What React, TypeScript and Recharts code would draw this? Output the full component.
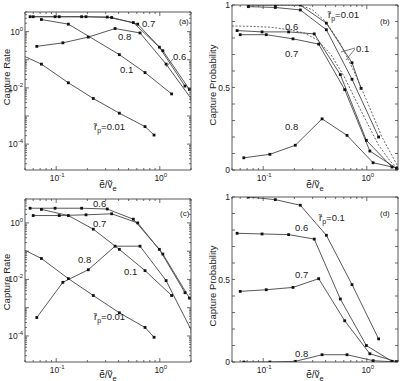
import React from 'react'
import { LineChart, Line, XAxis, YAxis, ReferenceArea } from 'recharts'

const FONT = '"Liberation Sans", Arial, Helvetica, sans-serif'
const INK = '#454545'
const TXT = '#222'

// e/v sample points used by each r_p run
const xRun06 = [0.056, 0.0975, 0.176, 0.311, 0.555, 0.99, 1.75]
const xRun07 = [0.06, 0.107, 0.194, 0.343, 0.612, 1.07, 1.93]
const xRun08 = [0.065, 0.116, 0.204, 0.37, 0.644, 1.15, 2.05]
const xRun08p = [0.065, 0.116, 0.204, 0.37, 0.644, 1.15, 1.95]
const xRun01 = [0.072, 0.131, 0.228, 0.407, 0.72, 1.3]
const xRun001 = [0.045, 0.072, 0.131, 0.228, 0.407, 0.72, 0.88]

// (a) capture rate
const aX01 = [0.072, 0.131, 0.407, 0.72, 1.3]
const aY01 = [2.7, 1.85, 0.152, 0.035, 0.0061]
const aY001 = [0.155, 0.07, 0.0152, 0.0042, 0.00126, 0.00042, 0.00021]
const aY06 = [3.4, 3.4, 3.4, 3.3, 2.1, 0.28, 0.0116]
const aY07 = [3.4, 3.4, 3.4, 3.2, 1.85, 0.21, 0.0088]
const aY08 = [0.3, 0.4, 0.64, 1.29, 0.9, 0.07, 0.0037]

// (b) capture probability
const bX001 = [0.072, 0.131, 0.228, 0.407, 0.72, 0.88]
const bY001 = [1, 1, 1, 0.89, 0.65, 0.495]
const bY01 = [0.99, 0.985, 0.97, 0.85, 0.55, 0.2]
const bY06 = [0.845, 0.837, 0.837, 0.825, 0.578, 0.18, 0.018]
const bY07 = [0.82, 0.82, 0.795, 0.763, 0.487, 0.115, 0.01]
const bY08 = [0.074, 0.095, 0.15, 0.31, 0.21, 0.044, 0.012]
const bXdashA = [0.072, 0.131, 0.228, 0.3, 0.4, 0.55, 0.75, 1.0, 1.4, 2.0]
const bYdashA = [1, 1, 1, 0.97, 0.9, 0.77, 0.6, 0.42, 0.2, 0.02]
const bXdashB = [0.05, 0.08, 0.12, 0.18, 0.25, 0.33, 0.45, 0.6, 0.8, 1.0, 1.3, 1.7, 2.0]
const bYdashB = [0.873, 0.87, 0.865, 0.85, 0.83, 0.79, 0.7, 0.57, 0.41, 0.29, 0.15, 0.05, 0.01]

// (c) capture rate
const cY001 = [0.13, 0.055, 0.0107, 0.0027, 0.00066, 0.0002, 0.00009]
const cY01 = [3.0, 1.82, 0.6, 0.116, 0.0205, 0.0027]
const cY06 = [3.3, 3.3, 3.3, 3.1, 1.35, 0.116, 0.0034]
const cY07 = [1.82, 1.82, 1.93, 2.1, 1.0, 0.079, 0.0022]
const cY08 = [0.00045, 0.0079, 0.022, 0.15, 0.15, 0.0091, 0.00014]

// (d) capture probability
const dY01 = [1.0, 0.984, 0.95, 0.768, 0.469, 0.14]
const dY06 = [0.78, 0.776, 0.772, 0.745, 0.382, 0.1, 0.004]
const dY07 = [0.428, 0.438, 0.452, 0.505, 0.25, 0.05, 0.002]
const dY08 = [0, 0, 0.004, 0.044, 0.044, 0.008, 0]

// ticks
const xTicks = [0.05, 0.06, 0.07, 0.08, 0.09, 0.1, 0.2, 0.3, 0.4, 0.5, 0.6, 0.7, 0.8, 0.9, 1, 2]
const logDecades = [1e-5, 1e-4, 1e-3, 1e-2, 1e-1, 1]
const logSteps = [1, 2, 3, 4, 5, 6, 7, 8, 9]
const linTicks = [0, 0.1, 0.2, 0.3, 0.4, 0.5, 0.6, 0.7, 0.8, 0.9, 1]
const linLabels = ['0', '0.5', '1']

const pts = (xs: number[], ys: number[]) => xs.map((x, i) => ({ x, y: ys[i] }))

function logTicks(lo: number, hi: number) {
  const out: number[] = []
  logDecades.forEach(d => logSteps.forEach(k => {
    const v = k * d
    if (v >= lo && v <= hi) out.push(v)
  }))
  return out
}

function SqDot(props: any) {
  const { cx, cy } = props
  if (cx == null || cy == null) return null
  return <rect x={cx - 1.4} y={cy - 1.4} width={2.8} height={2.8} fill="#111" />
}

function XTick(props: any) {
  const { x, y, payload, plotH } = props
  const v = payload.value
  const major = v === 0.1 || v === 1
  const len = major ? 4 : 2
  return (
    <g>
      <line x1={x} x2={x} y1={y} y2={y - len} stroke={INK} strokeWidth={0.8} />
      <line x1={x} x2={x} y1={y - plotH} y2={y - plotH + len} stroke={INK} strokeWidth={0.8} />
      {major && (
        <text x={x + 1} y={y + 11} textAnchor="middle" fontSize={8.5} fontFamily={FONT} fill={TXT}>
          10<tspan dy={-4} fontSize={6}>{v === 1 ? '0' : '-1'}</tspan>
        </text>
      )}
    </g>
  )
}

function YTick(props: any) {
  const { x, y, payload, plotW, log } = props
  const v = payload.value
  let len = 3
  let label: React.ReactNode = null
  if (log) {
    const e = Math.log10(v)
    const isDecade = Math.abs(e - Math.round(e)) < 1e-6
    len = isDecade ? 4 : 2
    if (isDecade && Math.round(e) % 2 === 0) {
      label = (
        <text x={x - 2} y={y + 3} textAnchor="end" fontSize={8.5} fontFamily={FONT} fill={TXT}>
          10<tspan dy={-4} fontSize={6}>{Math.round(e) === 0 ? '0' : String(Math.round(e))}</tspan>
        </text>
      )
    }
  } else {
    const s = linLabels.find(l => Math.abs(parseFloat(l) - v) < 1e-6)
    if (s) {
      label = (
        <text x={x - 2} y={y + 3} textAnchor="end" fontSize={8.5} fontFamily={FONT} fill={TXT}>{s}</text>
      )
    }
  }
  return (
    <g>
      <line x1={x} x2={x + len} y1={y} y2={y} stroke={INK} strokeWidth={0.8} />
      <line x1={x + plotW - len} x2={x + plotW} y1={y} y2={y} stroke={INK} strokeWidth={0.8} />
      {label}
    </g>
  )
}

type Series = { data: { x: number; y: number }[]; dashed?: boolean }

interface PanelProps {
  left: number
  top: number
  height: number
  // plot box inside the 200-wide panel
  box: { top: number; right: number; bottom: number; left: number }
  log: boolean
  yDomain: [number, number]
  series: Series[]
}

function Panel({ left, top, height, box, log, yDomain, series }: PanelProps) {
  const width = 200
  const plotW = width - box.left - box.right
  const plotH = height - box.top - box.bottom
  const yTicks = log ? logTicks(yDomain[0], yDomain[1]) : linTicks
  // axes take 1px each, so shrink the margins by that
  const margin = { top: box.top, right: box.right, bottom: box.bottom - 1, left: box.left - 1 }
  return (
    <div style={{ position: 'absolute', left, top }}>
      <LineChart width={width} height={height} margin={margin}>
        <XAxis
          type="number" dataKey="x" scale="log" domain={[0.05, 2]} allowDataOverflow
          ticks={xTicks} interval={0} height={1} tickSize={0} tickMargin={0} axisLine={false} tickLine={false}
          tick={(p: any) => <XTick {...p} plotH={plotH} />}
        />
        <YAxis
          type="number" dataKey="y" scale={log ? 'log' : 'linear'} domain={yDomain} allowDataOverflow
          ticks={yTicks} interval={0} width={1} tickSize={0} tickMargin={0} axisLine={false} tickLine={false}
          tick={(p: any) => <YTick {...p} plotW={plotW} log={log} />}
        />
        <ReferenceArea
          x1={0.05} x2={2} y1={yDomain[0]} y2={yDomain[1]}
          fill="none" fillOpacity={0} stroke={INK} strokeWidth={0.9} ifOverflow="visible"
        />
        {series.map((s, i) => (
          <Line
            key={i}
            data={s.data}
            dataKey="y"
            type="linear"
            stroke={s.dashed ? '#555' : INK}
            strokeWidth={0.9}
            strokeDasharray={s.dashed ? '2 1.6' : undefined}
            dot={s.dashed ? false : <SqDot />}
            activeDot={false}
            isAnimationActive={false}
          />
        ))}
      </LineChart>
    </div>
  )
}

// r~_p = value, the tilde drawn as its own small glyph over the r
function Rp({ x, y, v }: { x: number; y: number; v: string }) {
  return (
    <g>
      <text x={x - 0.3} y={y - 0.5} fontSize={9.5} fontFamily={FONT} fill={TXT}>˜</text>
      <text x={x} y={y} fontSize={9.5} fontFamily={FONT} fill={TXT}>
        r<tspan dy={2.5} fontSize={7}>p</tspan><tspan dy={-2.5}>={v}</tspan>
      </text>
    </g>
  )
}

function XTitle({ x, y }: { x: number; y: number }) {
  return (
    <text x={x} y={y} textAnchor="middle" fontSize={10} fontFamily={FONT} fill={TXT}>
      {'\u1EBD/\u1E7D'}<tspan dy={2.5} fontSize={7.5}>e</tspan>
    </text>
  )
}

function YTitle({ x, y, label }: { x: number; y: number; label: string }) {
  return (
    <text x={x} y={y} transform={`rotate(-90 ${x} ${y})`} textAnchor="middle" fontSize={9.5} fontFamily={FONT} fill={TXT}>
      {label}
    </text>
  )
}

function Note({ x, y, t, size = 9.5 }: { x: number; y: number; t: string; size?: number }) {
  return <text x={x} y={y} fontSize={size} fontFamily={FONT} fill={TXT}>{t}</text>
}

export default function App() {
  const seriesA: Series[] = [
    { data: pts(xRun001, aY001) },
    { data: pts(aX01, aY01) },
    { data: pts(xRun06, aY06) },
    { data: pts(xRun07, aY07) },
    { data: pts(xRun08, aY08) },
  ]
  const seriesB: Series[] = [
    { data: pts(bXdashA, bYdashA), dashed: true },
    { data: pts(bXdashB, bYdashB), dashed: true },
    { data: pts(bX001, bY001) },
    { data: pts(xRun01, bY01) },
    { data: pts(xRun06, bY06) },
    { data: pts(xRun07, bY07) },
    { data: pts(xRun08p, bY08) },
  ]
  const seriesC: Series[] = [
    { data: pts(xRun001, cY001) },
    { data: pts(xRun01, cY01) },
    { data: pts(xRun06, cY06) },
    { data: pts(xRun07, cY07) },
    { data: pts(xRun08, cY08) },
  ]
  const seriesD: Series[] = [
    { data: pts(xRun01, dY01) },
    { data: pts(xRun06, dY06) },
    { data: pts(xRun07, dY07) },
    { data: pts(xRun08p, dY08) },
  ]

  return (
    <div style={{ position: 'absolute', left: 0, top: 0, width: 400, height: 381, background: '#fff', overflow: 'hidden' }}>
      <Panel left={0} top={0} height={190} box={{ top: 12, right: 9, bottom: 20, left: 25 }} log yDomain={[1.2e-5, 5]} series={seriesA} />
      <Panel left={200} top={0} height={190} box={{ top: 5, right: 2, bottom: 20, left: 32 }} log={false} yDomain={[0, 1]} series={seriesB} />
      <Panel left={0} top={190} height={191} box={{ top: 9, right: 9, bottom: 19, left: 25 }} log yDomain={[1.2e-5, 7]} series={seriesC} />
      <Panel left={200} top={190} height={191} box={{ top: 7, right: 2, bottom: 19, left: 32 }} log={false} yDomain={[0, 1]} series={seriesD} />

      <svg width={400} height={381} style={{ position: 'absolute', left: 0, top: 0, pointerEvents: 'none' }}>
        {/* axis titles */}
        <YTitle x={9.5} y={77} label="Capture Rate" />
        <YTitle x={216} y={85} label="Capture Probability" />
        <YTitle x={9.5} y={282} label="Capture Rate" />
        <YTitle x={216} y={286} label="Capture Probability" />
        <XTitle x={108} y={188} />
        <XTitle x={315} y={188} />
        <XTitle x={108} y={378} />
        <XTitle x={315} y={378} />

        {/* (a) */}
        <Note x={142} y={27} t="0.7" />
        <Note x={118} y={40} t="0.8" />
        <Note x={173} y={60} t="0.6" />
        <line x1={173} y1={59} x2={166} y2={67} stroke={INK} strokeWidth={0.7} />
        <Note x={120} y={73} t="0.1" />
        <Rp x={94} y={130} v="0.01" />
        <Note x={179} y={24} t="(a)" size={8} />

        {/* (b) */}
        <Rp x={328} y={18} v="0.01" />
        <Note x={380} y={24} t="(b)" size={8} />
        <Note x={285} y={30} t="0.6" />
        <Note x={285} y={57} t="0.7" />
        <Note x={356} y={52} t="0.1" />
        <line x1={355} y1={48} x2={341} y2={52} stroke={INK} strokeWidth={0.7} />
        <line x1={355} y1={49} x2={346} y2={60} stroke={INK} strokeWidth={0.7} />
        <Note x={285} y={130} t="0.8" />

        {/* (c) */}
        <Note x={93} y={207} t="0.6" />
        <Note x={93} y={227} t="0.7" />
        <Note x={78} y={263} t="0.8" />
        <Note x={124} y={275} t="0.1" />
        <Rp x={94} y={320} v="0.01" />
        <Note x={180} y={216} t="(c)" size={8} />

        {/* (d) */}
        <Rp x={319} y={221} v="0.1" />
        <Note x={295} y={231} t="0.6" />
        <Note x={295} y={278} t="0.7" />
        <Note x={295} y={357} t="0.8" />
        <Note x={380} y={216} t="(d)" size={8} />
      </svg>
    </div>
  )
}
